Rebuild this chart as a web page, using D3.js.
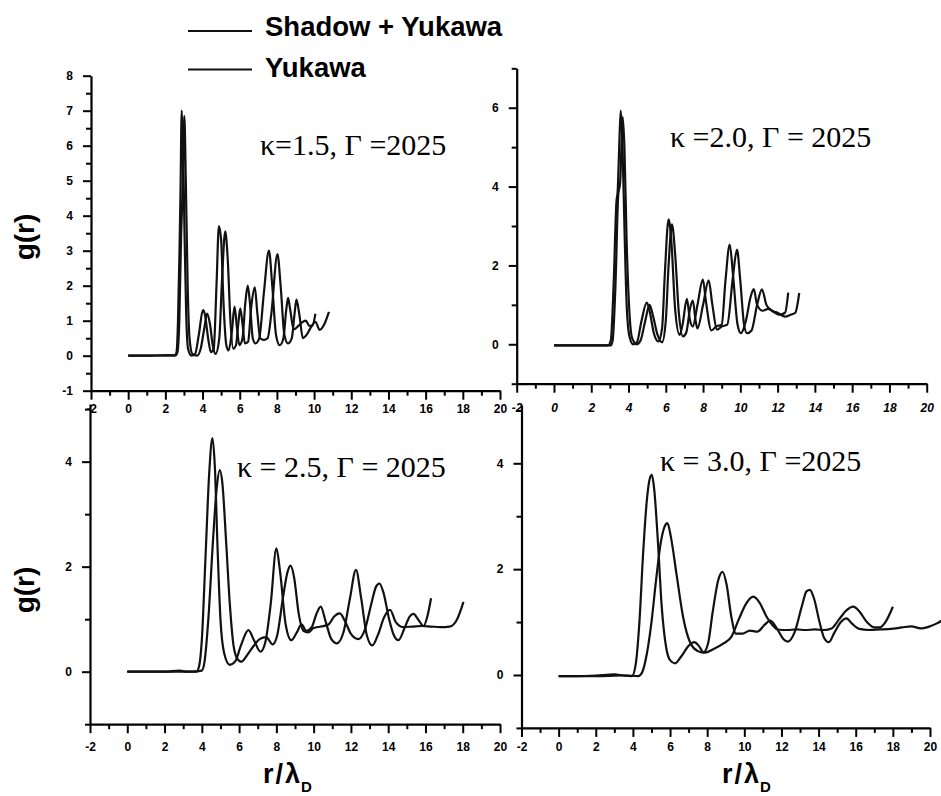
<!DOCTYPE html>
<html>
<head>
<meta charset="utf-8">
<script src="https://cdn.jsdelivr.net/npm/d3@7/dist/d3.min.js"></script>
<style>
  body { margin: 0; background: #fff; }
  svg { display: block; }
</style>
</head>
<body>
<svg id="fig" width="941" height="796"></svg>
<script>
// ---- legend / annotations ----
const seriesNames = ["Shadow + Yukawa", "Yukawa"];
const panelTitles = ["κ=1.5, Γ =2025", "κ =2.0, Γ = 2025", "κ = 2.5, Γ = 2025", "κ = 3.0, Γ =2025"];

// ---- r/λD axis ticks ----
const rMajorTicks = [-2, 0, 2, 4, 6, 8, 10, 12, 14, 16, 18, 20];
const rMinorTicks = [-1, 1, 3, 5, 7, 9, 11, 13, 15, 17, 19];

// ---- g(r) axis ticks ----
const gMajorK15 = [-1, 0, 1, 2, 3, 4, 5, 6, 7, 8];
const gMinorK15 = [-0.5, 0.5, 1.5, 2.5, 3.5, 4.5, 5.5, 6.5, 7.5];
const gMajorK20 = [0, 2, 4, 6];
const gMinorK20 = [-1, 1, 3, 5, 7];
const gMajorLow = [0, 2, 4];
const gMinorLow = [-1, 1, 3, 5];

// ---- g(r) curves, points [r/λD, g(r)] ----
const k15Shadow = [[0,0],[1,0],[2,0.01],[2.5,0.01],[2.6,0.1],[2.68,1.0],[2.76,3.0],[2.81,4.5],[2.88,7.0],[2.95,6.0],[3.03,3.5],[3.12,1.2],[3.22,0.2],[3.4,0.0],[3.6,0.05],[3.8,0.6],[4.02,1.3],[4.12,1.2],[4.3,0.5],[4.45,0.1],[4.6,0.2],[4.75,2.0],[4.88,3.7],[5.0,3.3],[5.12,1.6],[5.28,0.3],[5.4,0.15],[5.58,0.7],[5.72,1.4],[5.85,0.8],[5.98,0.3],[6.15,0.5],[6.3,1.5],[6.43,2.0],[6.55,1.5],[6.7,0.5],[6.85,0.35],[7.05,0.5],[7.3,1.8],[7.57,3.0],[7.75,2.0],[7.95,0.6],[8.15,0.3],[8.35,0.5],[8.5,1.3],[8.6,1.65],[8.72,1.3],[8.9,0.75],[9.15,0.85],[9.35,0.95],[9.55,1.0],[9.75,0.85],[9.9,0.85],[10.07,1.2]];
const k15Yukawa = [[0,0],[1,0],[2,0.01],[2.55,0.01],[2.65,0.1],[2.75,1.0],[2.85,3.5],[2.92,4.6],[3.02,6.85],[3.1,5.0],[3.2,2.0],[3.3,0.5],[3.45,0.05],[3.7,0.0],[3.9,0.2],[4.1,0.8],[4.25,1.2],[4.4,0.9],[4.55,0.3],[4.7,0.05],[4.9,0.5],[5.05,2.2],[5.22,3.55],[5.35,2.8],[5.5,1.0],[5.65,0.2],[5.8,0.3],[5.92,0.9],[6.03,1.35],[6.15,0.9],[6.28,0.35],[6.45,0.4],[6.62,1.4],[6.81,1.95],[6.95,1.2],[7.1,0.5],[7.3,0.45],[7.5,0.5],[7.7,1.2],[8.03,2.9],[8.2,2.0],[8.4,0.6],[8.6,0.35],[8.8,0.5],[8.95,1.2],[9.05,1.6],[9.2,1.2],[9.4,0.5],[9.6,0.6],[9.85,0.83],[10.07,0.97],[10.3,0.74],[10.55,0.9],[10.8,1.25]];

const k20Shadow = [[0,-0.03],[1,-0.03],[2,-0.03],[2.9,-0.03],[3.05,0.1],[3.2,1.5],[3.35,3.6],[3.42,3.9],[3.5,5.0],[3.58,5.93],[3.66,5.3],[3.78,3.0],[3.9,1.0],[4.05,0.2],[4.25,0.0],[4.45,0.05],[4.7,0.6],[4.98,1.06],[5.15,0.8],[5.35,0.3],[5.6,0.07],[5.8,0.4],[5.95,1.8],[6.15,3.17],[6.3,2.6],[6.5,0.9],[6.74,0.24],[6.9,0.5],[7.13,1.15],[7.3,0.6],[7.45,0.45],[7.7,1.0],[7.99,1.64],[8.15,1.1],[8.45,0.35],[8.7,0.45],[9.0,0.5],[9.2,1.6],[9.43,2.53],[9.6,1.8],[9.85,0.5],[10.03,0.28],[10.3,0.6],[10.55,1.2],[10.72,1.4],[10.9,1.0],[11.2,0.85],[11.5,0.9],[11.8,0.82],[12.1,0.75],[12.4,0.8],[12.57,1.31]];
const k20Yukawa = [[0,-0.03],[1,-0.03],[2,-0.03],[3.05,-0.03],[3.15,0.1],[3.3,1.5],[3.45,3.8],[3.55,4.1],[3.62,5.0],[3.69,5.76],[3.78,5.0],[3.9,2.6],[4.05,0.8],[4.2,0.15],[4.45,0.0],[4.65,0.1],[4.9,0.6],[5.13,1.0],[5.3,0.75],[5.55,0.25],[5.8,0.05],[6.0,0.6],[6.15,2.0],[6.33,3.04],[6.5,2.3],[6.7,0.8],[6.92,0.2],[7.1,0.3],[7.3,0.9],[7.45,1.11],[7.6,0.6],[7.7,0.4],[8.0,1.0],[8.3,1.62],[8.5,1.0],[8.75,0.37],[9.0,0.45],[9.3,0.5],[9.6,1.7],[9.82,2.4],[10.0,1.6],[10.2,0.5],[10.36,0.28],[10.6,0.35],[10.9,1.0],[11.16,1.39],[11.4,1.0],[11.7,0.85],[12.0,0.8],[12.4,0.7],[12.7,0.75],[12.95,0.8],[13.16,1.3]];

const k25Shadow = [[0,0],[1,0],[2,0],[2.8,0.02],[3.2,0],[3.7,0],[3.85,0.1],[4.0,0.6],[4.2,2.2],[4.4,3.8],[4.57,4.45],[4.7,3.9],[4.85,2.3],[5.0,1.0],[5.2,0.35],[5.5,0.13],[5.8,0.2],[6.1,0.5],[6.5,0.79],[6.8,0.6],[7.15,0.38],[7.4,0.55],[7.7,1.3],[8.0,2.35],[8.2,1.9],[8.5,0.9],[8.8,0.6],[9.1,0.75],[9.35,0.9],[9.6,0.78],[9.9,0.85],[10.15,1.1],[10.38,1.24],[10.65,0.95],[10.95,0.62],[11.25,0.54],[11.6,0.75],[11.95,1.4],[12.27,1.94],[12.55,1.4],[12.85,0.7],[13.15,0.5],[13.45,0.7],[13.8,1.05],[14.1,1.18],[14.4,0.95],[14.8,0.85],[15.3,0.86],[15.8,0.87],[16.3,0.86],[16.8,0.85],[17.3,0.86],[17.7,1.0],[18.04,1.33]];
const k25Yukawa = [[0,0],[2,0],[3.5,0],[4.0,0.02],[4.15,0.2],[4.35,1.0],[4.6,2.5],[4.8,3.5],[4.96,3.84],[5.1,3.6],[5.3,2.5],[5.5,1.3],[5.7,0.5],[5.9,0.25],[6.13,0.19],[6.4,0.3],[6.8,0.5],[7.1,0.62],[7.45,0.66],[7.8,0.52],[8.05,0.7],[8.35,1.4],[8.6,1.9],[8.76,2.02],[8.95,1.8],[9.2,1.1],[9.45,0.78],[9.7,0.75],[10.0,0.83],[10.4,0.86],[10.8,0.9],[11.1,1.05],[11.4,1.11],[11.7,0.95],[12.0,0.72],[12.4,0.62],[12.75,0.8],[13.1,1.3],[13.35,1.62],[13.53,1.68],[13.75,1.5],[14.05,1.0],[14.3,0.7],[14.55,0.6],[14.9,0.85],[15.15,1.05],[15.36,1.1],[15.6,1.0],[15.9,0.87],[16.1,1.05],[16.3,1.4]];

const k30Shadow = [[0,-0.02],[1,-0.02],[2,-0.01],[3,0.01],[3.5,-0.01],[3.95,-0.02],[4.15,0.2],[4.35,1.0],[4.55,2.3],[4.75,3.3],[4.9,3.7],[5.02,3.78],[5.15,3.5],[5.35,2.5],[5.55,1.3],[5.8,0.5],[6.0,0.28],[6.27,0.22],[6.6,0.35],[7.0,0.55],[7.3,0.62],[7.55,0.55],[7.8,0.43],[8.05,0.6],[8.3,1.2],[8.6,1.8],[8.83,1.95],[9.05,1.7],[9.3,1.1],[9.55,0.78],[9.9,0.78],[10.3,0.84],[10.7,0.82],[11.1,0.95],[11.4,1.03],[11.8,0.85],[12.1,0.68],[12.35,0.63],[12.7,0.8],[13.1,1.3],[13.35,1.58],[13.53,1.61],[13.75,1.45],[14.05,1.0],[14.3,0.7],[14.55,0.62],[14.85,0.8],[15.2,1.0],[15.5,1.07],[15.8,0.97],[16.2,0.87],[16.7,0.85],[17.3,0.86],[17.9,0.87],[18.5,0.9],[19.0,0.92],[19.5,0.88],[20.0,0.92],[20.4,0.98],[20.7,1.04]];
const k30Yukawa = [[0,-0.02],[2,-0.02],[3.5,-0.01],[4.3,-0.02],[4.5,0.05],[4.75,0.4],[5.0,1.0],[5.25,1.8],[5.5,2.5],[5.7,2.8],[5.86,2.87],[6.05,2.6],[6.35,1.9],[6.7,1.1],[7.1,0.6],[7.5,0.45],[7.8,0.42],[8.4,0.5],[8.9,0.6],[9.3,0.72],[9.7,1.05],[10.1,1.35],[10.48,1.48],[10.85,1.35],[11.2,1.1],[11.5,0.95],[11.8,0.86],[12.3,0.85],[12.8,0.86],[13.3,0.85],[13.8,0.86],[14.3,0.85],[14.7,0.88],[15.1,1.05],[15.5,1.22],[15.86,1.29],[16.2,1.2],[16.6,1.0],[17.0,0.9],[17.3,0.9],[17.6,1.0],[18.0,1.29]];

// ---- layout of the four panels ----
const panels = [
  { title: panelTitles[0], curves: [k15Shadow, k15Yukawa], gDomain: [-1, 8],
    gMajor: gMajorK15, gMinor: gMinorK15, xRange: [91, 500], yRange: [390.7, 75.7],
    titlePos: [260, 155], xPad: 5, italicX: false },
  { title: panelTitles[1], curves: [k20Shadow, k20Yukawa], gDomain: [-1, 7],
    gMajor: gMajorK20, gMinor: gMinorK20, xRange: [516.7, 926.7], yRange: [383.7, 68.3],
    titlePos: [670, 147], xPad: 11, italicX: true },
  { title: panelTitles[2], curves: [k25Shadow, k25Yukawa], gDomain: [-1, 5.1],
    gMajor: gMajorLow, gMinor: gMinorLow, xRange: [90, 500], yRange: [724.2, 403.9],
    titlePos: [237, 477], xPad: 9, italicX: false },
  { title: panelTitles[3], curves: [k30Shadow, k30Yukawa], gDomain: [-1, 5.1],
    gMajor: gMajorLow, gMinor: gMinorLow, xRange: [521.5, 930], yRange: [727.9, 405.1],
    titlePos: [660, 471], xPad: 6, italicX: false }
];

const svg = d3.select("#fig");
const tickFont = "'Liberation Sans', Arial, sans-serif";
const fmt = d => String(d);

function styleAxis(sel) {
  sel.select(".domain").attr("stroke", "#000").attr("stroke-width", 2.2);
  sel.selectAll(".tick line").attr("stroke", "#000").attr("stroke-width", 2);
  sel.selectAll(".tick text")
    .attr("fill", "#000")
    .attr("font-family", tickFont)
    .attr("font-weight", "bold")
    .attr("font-size", 12);
}

panels.forEach(p => {
  const x = d3.scaleLinear().domain([-2, 20]).range(p.xRange);
  const y = d3.scaleLinear().domain(p.gDomain).range(p.yRange);
  const g = svg.append("g");

  // r/λD axis: minor then major ticks
  g.append("g")
    .attr("transform", `translate(0,${p.yRange[0]})`)
    .call(d3.axisBottom(x).tickValues(rMinorTicks).tickSize(5).tickFormat(""))
    .call(s => s.select(".domain").remove())
    .call(styleAxis);
  const xa = g.append("g")
    .attr("transform", `translate(0,${p.yRange[0]})`)
    .call(d3.axisBottom(x).tickValues(rMajorTicks).tickSize(9).tickSizeOuter(0)
      .tickPadding(p.xPad).tickFormat(fmt))
    .call(styleAxis);
  if (p.italicX) xa.selectAll(".tick text").attr("font-style", "italic");

  // g(r) axis
  g.append("g")
    .attr("transform", `translate(${p.xRange[0]},0)`)
    .call(d3.axisLeft(y).tickValues(p.gMinor).tickSize(5).tickFormat(""))
    .call(s => s.select(".domain").remove())
    .call(styleAxis);
  g.append("g")
    .attr("transform", `translate(${p.xRange[0]},0)`)
    .call(d3.axisLeft(y).tickValues(p.gMajor).tickSize(8).tickSizeOuter(0)
      .tickPadding(10).tickFormat(fmt))
    .call(styleAxis);

  // curves
  const line = d3.line()
    .x(d => x(d[0]))
    .y(d => y(d[1]))
    .curve(d3.curveMonotoneX);
  g.selectAll("path.curve")
    .data(p.curves)
    .join("path")
    .attr("class", "curve")
    .attr("d", line)
    .attr("fill", "none")
    .attr("stroke", "#111")
    .attr("stroke-width", 2.2)
    .attr("stroke-linejoin", "round");

  // panel annotation
  g.append("text")
    .attr("x", p.titlePos[0])
    .attr("y", p.titlePos[1])
    .attr("font-family", "'Liberation Serif', 'Times New Roman', serif")
    .attr("font-size", 30)
    .attr("fill", "#000")
    .text(p.title);
});

// g(r) axis titles
[237, 590].forEach(cy => {
  svg.append("text")
    .attr("transform", `translate(34,${cy}) rotate(-90)`)
    .attr("text-anchor", "middle")
    .attr("font-family", tickFont)
    .attr("font-weight", "bold")
    .attr("font-size", 28)
    .attr("fill", "#000")
    .text("g(r)");
});

// r/λD axis titles
[263, 722].forEach(lx => {
  const t = svg.append("text")
    .attr("x", lx)
    .attr("y", 783)
    .attr("font-family", tickFont)
    .attr("font-weight", "bold")
    .attr("font-size", 27)
    .attr("letter-spacing", 2)
    .attr("fill", "#000");
  t.append("tspan").text("r/λ");
  t.append("tspan")
    .attr("dy", 9)
    .attr("dx", -1)
    .attr("font-size", 15)
    .attr("letter-spacing", 0)
    .text("D");
});

// legend
const legendRows = [{ y: 31, ty: 36 }, { y: 69.5, ty: 77 }];
seriesNames.forEach((name, i) => {
  svg.append("line")
    .attr("x1", 188).attr("x2", 252)
    .attr("y1", legendRows[i].y).attr("y2", legendRows[i].y)
    .attr("stroke", "#111").attr("stroke-width", 2);
  svg.append("text")
    .attr("x", 265).attr("y", legendRows[i].ty)
    .attr("font-family", tickFont)
    .attr("font-weight", "bold")
    .attr("font-size", 27.5)
    .attr("fill", "#000")
    .text(name);
});
</script>
</body>
</html>
